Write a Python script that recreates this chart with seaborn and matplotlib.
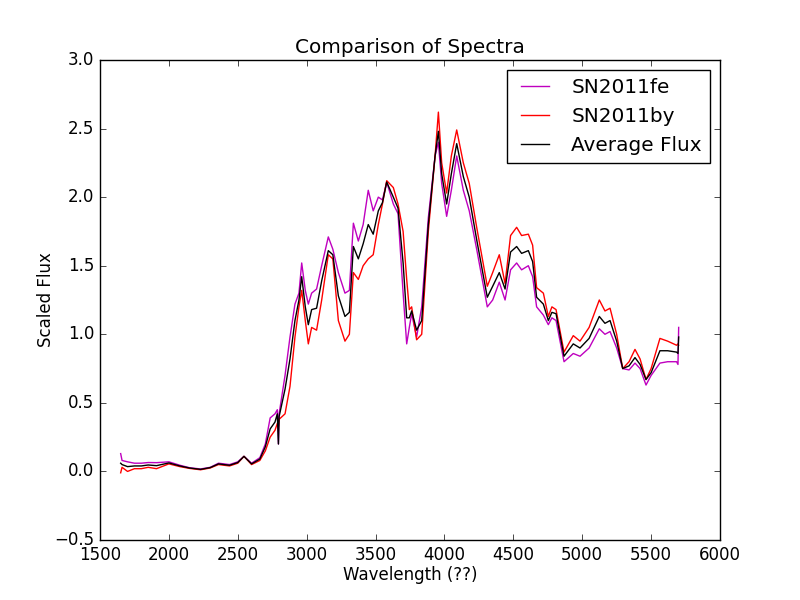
import pandas as pd
import seaborn as sns
import matplotlib.pyplot as plt

# wavelengths (shared) and flux values
wavelength = [1650, 1660, 1700, 1750, 1800, 1850, 1910, 2000, 2080, 2150, 2230, 2300, 2360, 2440,
              2500, 2545, 2600, 2660, 2700, 2735, 2770, 2787, 2795, 2800, 2843, 2879, 2915, 2944,
              2964, 2990, 3012, 3036, 3072, 3109, 3157, 3190, 3230, 3278, 3310, 3339, 3375, 3410,
              3447, 3483, 3520, 3550, 3581, 3629, 3663, 3700, 3726, 3745, 3762, 3798, 3835, 3883,
              3932, 3956, 3980, 4016, 4050, 4089, 4137, 4180, 4234, 4311, 4350, 4398, 4440, 4480,
              4524, 4560, 4609, 4640, 4669, 4718, 4754, 4780, 4810, 4868, 4935, 4984, 5050, 5124,
              5165, 5202, 5250, 5294, 5340, 5383, 5420, 5463, 5500, 5564, 5620, 5685, 5695, 5700]

flux_fe = [0.13, 0.08, 0.07, 0.06, 0.06, 0.065, 0.064, 0.07, 0.045, 0.027, 0.018, 0.03, 0.06, 0.05,
           0.07, 0.11, 0.06, 0.1, 0.2, 0.39, 0.42, 0.45, 0.2, 0.42, 0.7, 0.98, 1.22, 1.3,
           1.52, 1.32, 1.22, 1.3, 1.33, 1.5, 1.71, 1.62, 1.45, 1.3, 1.32, 1.81, 1.68, 1.8,
           2.05, 1.9, 2.0, 1.98, 2.11, 1.95, 1.88, 1.3, 0.93, 1.05, 1.15, 0.98, 1.2, 1.85,
           2.3, 2.4, 2.1, 1.86, 2.05, 2.3, 2.05, 1.9, 1.62, 1.2, 1.25, 1.38, 1.25, 1.47,
           1.52, 1.47, 1.5, 1.42, 1.2, 1.14, 1.07, 1.12, 1.1, 0.8, 0.86, 0.84, 0.9, 1.04,
           1.0, 1.02, 0.9, 0.75, 0.74, 0.79, 0.75, 0.63, 0.7, 0.79, 0.8, 0.8, 0.78, 1.05]

flux_by = [-0.01, 0.03, 0.0, 0.02, 0.02, 0.03, 0.02, 0.055, 0.035, 0.022, 0.012, 0.025, 0.05, 0.04,
           0.06, 0.11, 0.05, 0.08, 0.15, 0.25, 0.3, 0.35, 0.33, 0.38, 0.42, 0.62, 0.98, 1.2,
           1.32, 1.1, 0.93, 1.05, 1.03, 1.25, 1.58, 1.55, 1.1, 0.95, 1.0, 1.45, 1.4, 1.5,
           1.55, 1.58, 1.8, 1.95, 2.12, 2.07, 1.95, 1.75, 1.4, 1.18, 1.2, 0.96, 1.0, 1.75,
           2.3, 2.62, 2.25, 2.03, 2.3, 2.49, 2.25, 2.1, 1.78, 1.35, 1.45, 1.58, 1.37, 1.72,
           1.78, 1.72, 1.73, 1.65, 1.34, 1.3, 1.13, 1.2, 1.18, 0.87, 0.99, 0.95, 1.05, 1.25,
           1.17, 1.19, 1.0, 0.75, 0.8, 0.89, 0.82, 0.67, 0.75, 0.97, 0.95, 0.92, 0.93, 0.92]

flux_avg = [0.06, 0.05, 0.035, 0.04, 0.04, 0.047, 0.042, 0.062, 0.04, 0.025, 0.015, 0.028, 0.055, 0.045,
            0.065, 0.11, 0.055, 0.09, 0.18, 0.31, 0.36, 0.42, 0.2, 0.4, 0.6, 0.82, 1.1, 1.25,
            1.42, 1.2, 1.07, 1.18, 1.19, 1.39, 1.61, 1.58, 1.28, 1.13, 1.16, 1.64, 1.55, 1.66,
            1.8, 1.73, 1.9, 1.96, 2.11, 2.0, 1.92, 1.52, 1.12, 1.12, 1.17, 1.03, 1.1, 1.8,
            2.3, 2.48, 2.17, 1.95, 2.17, 2.39, 2.15, 2.0, 1.69, 1.27, 1.35, 1.45, 1.33, 1.6,
            1.64, 1.59, 1.61, 1.53, 1.27, 1.22, 1.1, 1.16, 1.15, 0.84, 0.93, 0.9, 0.97, 1.13,
            1.08, 1.1, 0.95, 0.75, 0.77, 0.83, 0.78, 0.67, 0.72, 0.88, 0.88, 0.87, 0.86, 0.98]

plt.style.use("classic")
fig, ax = plt.subplots(figsize=(8, 6), dpi=100)
fig.patch.set_facecolor("white")

df = pd.DataFrame({"wave": wavelength, "fe": flux_fe, "by": flux_by, "avg": flux_avg})

sns.lineplot(x="wave", y="fe", data=df, ax=ax, color="m", label="SN2011fe", estimator=None, lw=1)
sns.lineplot(x="wave", y="by", data=df, ax=ax, color="r", label="SN2011by", estimator=None, lw=1)
sns.lineplot(x="wave", y="avg", data=df, ax=ax, color="k", label="Average Flux", estimator=None, lw=1)

ax.set_xlim(1500, 6000)
ax.set_ylim(-0.5, 3.0)
ax.set_title("Comparison of Spectra")
ax.set_xlabel("Wavelength (??)", labelpad=1.5)
ax.set_ylabel("Scaled Flux", labelpad=-0.5)
ax.legend(loc="upper right")

plt.savefig("out.png", dpi=100, facecolor="white")
